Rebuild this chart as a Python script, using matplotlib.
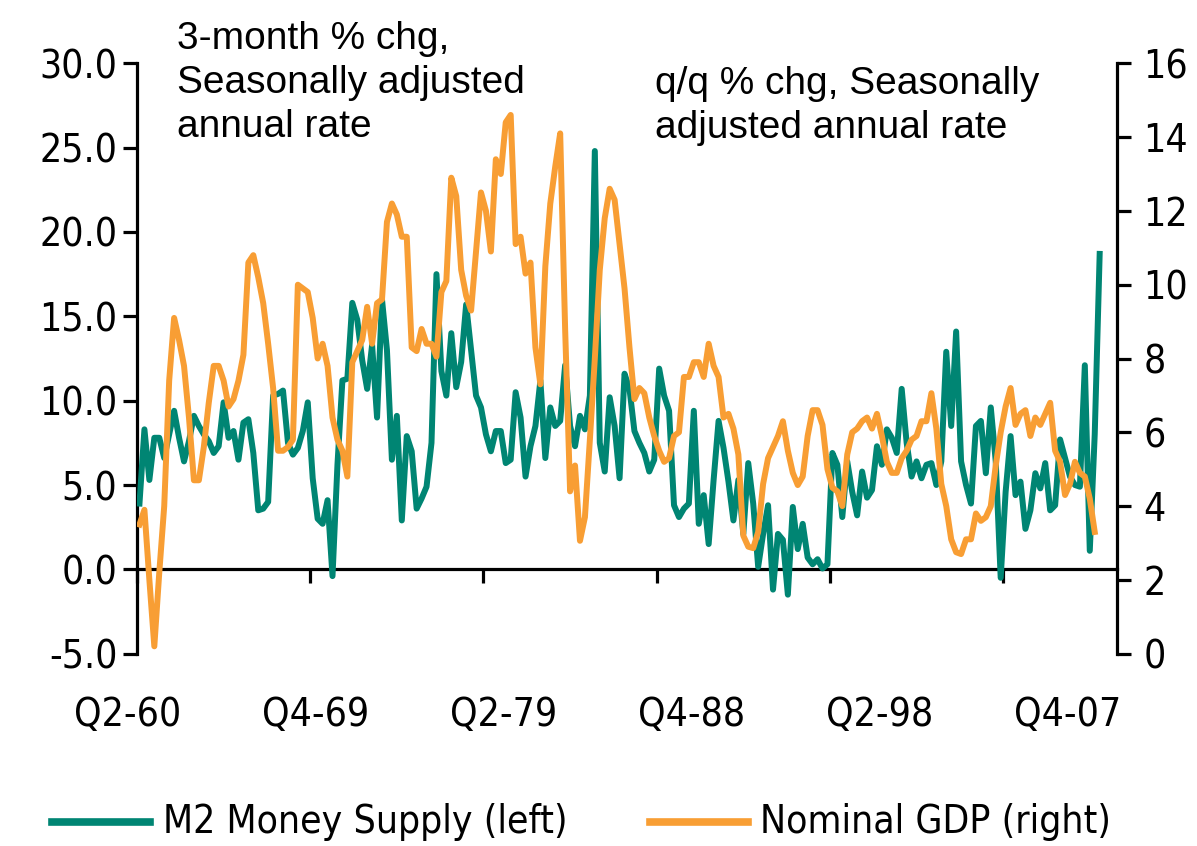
import matplotlib
matplotlib.use("Agg")
import matplotlib.pyplot as plt
from matplotlib.lines import Line2D
import matplotlib.transforms as mtransforms
import matplotlib.font_manager as fm

# ---------------- data ----------------
m2_growth = [
    3.9, 8.3, 5.3, 7.8, 7.8, 6.6, 8.0, 9.4, 7.8, 6.4,
    7.6, 9.1, 8.5, 8.0, 7.6, 6.9, 7.3, 9.9, 7.8, 8.2,
    6.5, 8.7, 8.9, 6.9, 3.5, 3.6, 4.0, 10.3, 10.4, 10.6,
    7.5, 6.8, 7.2, 8.2, 9.9, 5.4, 3.0, 2.7, 4.1, -0.4,
    6.2, 11.2, 11.3, 15.8, 14.8, 12.4, 10.7, 13.3, 9.0, 16.0,
    13.0, 6.5, 9.1, 2.9, 7.9, 7.0, 3.6, 4.2, 4.9, 7.5,
    17.5, 11.75, 10.3, 14.0, 10.8, 12.3, 15.7, 13.0, 10.3, 9.6,
    8.0, 7.0, 8.2, 8.2, 6.3, 6.5, 10.5, 9.0, 5.5, 7.3,
    8.5, 11.2, 6.6, 9.6, 8.5, 8.8, 12.1, 8.5, 7.3, 9.1,
    8.3, 10.3, 24.8, 7.5, 5.8, 10.2, 8.5, 5.4, 11.6, 10.7,
    8.2, 7.5, 6.9, 5.8, 6.5, 11.9, 10.3, 9.4, 3.8, 3.1,
    3.6, 3.9, 9.4, 2.7, 4.4, 1.5, 5.3, 8.8, 7.2, 5.2,
    2.9, 5.3, 2.1, 6.3, 3.9, 0.15, 2.1, 3.8, -1.2, 2.1,
    1.75, -1.5, 3.7, 1.2, 2.7, 0.7, 0.3, 0.6, 0.05, 0.3,
    6.9, 6.2, 3.1, 6.4, 4.6, 3.2, 5.8, 4.25, 4.7, 7.3,
    6.2, 8.3, 7.8, 6.9, 10.7, 7.5, 5.5, 6.4, 5.4, 6.2,
    6.3, 5.0, 6.4, 12.9, 8.5, 14.1, 6.4, 5.0, 3.9, 8.5,
    8.8, 5.7, 9.6, 6.4, -0.5, 4.6, 7.9, 4.4, 5.2, 2.4,
    3.5, 5.7, 4.8, 6.3, 3.5, 3.8, 7.7, 6.6, 5.5, 5.0,
    4.9, 12.1, 1.1, 8.0, 18.7,
]

gdp_growth = [
    3.5, 3.9, 2.0, 0.2, 2.2, 4.0, 7.4, 9.1, 8.5, 7.8,
    6.4, 4.7, 4.7, 5.6, 6.8, 7.8, 7.8, 7.4, 6.7, 6.9,
    7.4, 8.1, 10.6, 10.8, 10.2, 9.5, 8.4, 7.2, 5.5, 5.5,
    5.6, 5.8, 10.0, 9.9, 9.8, 9.1, 8.0, 8.4, 7.8, 6.4,
    5.8, 5.5, 4.8, 7.9, 8.2, 8.5, 9.4, 8.4, 9.5, 9.6,
    11.7, 12.2, 11.9, 11.3, 11.3, 8.3, 8.2, 8.8, 8.4, 8.4,
    8.05, 9.8, 10.1, 12.9, 12.4, 10.4, 9.7, 9.3, 10.9, 12.5,
    12.0, 10.9, 13.4, 13.0, 14.4, 14.6, 11.1, 11.3, 10.3, 10.6,
    8.3, 7.3, 10.5, 12.2, 13.2, 14.1, 8.8, 4.4, 5.1, 3.06,
    3.7, 5.8, 8.0, 10.4, 11.8, 12.6, 12.3, 11.1, 9.9, 8.3,
    6.9, 7.2, 7.06, 6.4, 5.9, 5.5, 5.2, 5.3, 5.9, 6.0,
    7.5, 7.5, 7.9, 7.9, 7.5, 8.4, 7.8, 7.5, 6.4, 6.5,
    6.1, 5.4, 3.2, 2.9, 2.86, 3.3, 4.6, 5.3, 5.6, 5.9,
    6.3, 5.5, 4.9, 4.57, 4.8, 5.9, 6.6, 6.6, 6.2, 5.0,
    4.5, 4.4, 4.0, 5.4, 6.0, 6.1, 6.3, 6.4, 6.1, 6.5,
    5.9, 5.2, 4.9, 4.9, 5.3, 5.5, 5.8, 5.9, 6.3, 6.3,
    7.06, 6.1, 4.6, 4.0, 3.1, 2.75, 2.7, 3.1, 3.1, 3.8,
    3.6, 3.7, 4.0, 5.1, 6.0, 6.7, 7.2, 6.2, 6.5, 6.6,
    5.9, 6.4, 6.2, 6.5, 6.8, 5.5, 5.2, 4.3, 4.6, 5.2,
    4.9, 4.8, 4.2, 3.3,
]

n_categories = 198                     # category slots on the x axis
x_labels = ["Q2-60", "Q4-69", "Q2-79", "Q4-88", "Q2-98", "Q4-07"]
x_label_pos = [0, 38, 76, 114, 152, 190]
x_tick_step = 35

left_ticks = [-5, 0, 5, 10, 15, 20, 25, 30]
right_ticks = [0, 2, 4, 6, 8, 10, 12, 14, 16]

series_names = ["M2 Money Supply (left)", "Nominal GDP (right)"]
left_note = "3-month % chg,\nSeasonally adjusted\nannual rate"
right_note = "q/q % chg, Seasonally\nadjusted annual rate"

# ---------------- fonts ----------------
def find_condensed():
    cond_names = ("condensed", "semi-condensed", "extra-condensed", "ultra-condensed")
    pref = ["Liberation Sans Narrow", "Noto Sans", "Open Sans", "Roboto", "DejaVu Sans", "Lato", "Inter"]
    best = None
    for f in fm.fontManager.ttflist:
        st = f.stretch
        is_cond = (st in cond_names) if isinstance(st, str) else (st < 500)
        if f.name == "Liberation Sans Narrow" or "Narrow" in f.name or "Condensed" in f.name:
            is_cond = True
        if not is_cond or f.style != "normal":
            continue
        w = f.weight
        if isinstance(w, str):
            if w not in ("normal", "regular", "book"):
                continue
        elif w != 400:
            continue
        if "Semi" in f.fname or "SemiCondensed" in f.fname:
            continue
        rank = pref.index(f.name) if f.name in pref else len(pref)
        if best is None or rank < best[0]:
            best = (rank, f.fname)
    return best[1] if best else None

cond_path = find_condensed()
if cond_path:
    def NFP(size):
        return fm.FontProperties(fname=cond_path, size=size)
    TICK_SIZE = 28
else:
    def NFP(size):
        return fm.FontProperties(family=["Liberation Sans", "DejaVu Sans"], size=size)
    TICK_SIZE = 25

REG = ["Liberation Sans", "DejaVu Sans"]

# ---------------- styling ----------------
TEAL = "#008573"
ORANGE = "#F89E34"
W, H = 1197, 846

fig = plt.figure(figsize=(W / 100, H / 100), dpi=100)
left_px, right_px, top_px, bot_px = 137, 1117, 63.3, 653.7
ax = fig.add_axes([left_px / W, 1 - bot_px / H, (right_px - left_px) / W, (bot_px - top_px) / H])
ax2 = ax.twinx()

ax.plot(range(len(m2_growth)), m2_growth, color=TEAL, lw=4.3, solid_joinstyle="round", zorder=3)
ax2.plot(range(len(gdp_growth)), gdp_growth, color=ORANGE, lw=4.3, solid_joinstyle="round", zorder=3)

ax.set_xlim(-0.5, n_categories - 0.5)
ax.set_ylim(-5, 30)
ax2.set_ylim(0, 16)

spine_w = 2.3
for a in (ax, ax2):
    a.spines["top"].set_visible(False)
ax.spines["right"].set_visible(False)
ax2.spines["left"].set_visible(False)
ax2.spines["bottom"].set_visible(False)
ax.spines["left"].set_linewidth(spine_w)
ax2.spines["right"].set_linewidth(spine_w)
ax.spines["bottom"].set_linewidth(spine_w)
ax.spines["bottom"].set_position(("data", 0))

ax.set_xticks([-0.5 + x_tick_step * k for k in range(6)])
ax.set_xticklabels([])
ax.tick_params(axis="x", direction="out", length=10, width=spine_w)

ax.set_yticks(left_ticks)
ax.set_yticklabels([f"{v:.1f}" for v in left_ticks], fontproperties=NFP(TICK_SIZE))
ax.tick_params(axis="y", direction="out", length=10, width=spine_w, pad=4)

ax2.set_yticks(right_ticks)
ax2.set_yticklabels([str(v) for v in right_ticks], fontproperties=NFP(TICK_SIZE))
ax2.tick_params(axis="y", direction="out", length=10, width=spine_w, pad=9)

trans = mtransforms.blended_transform_factory(ax.transData, ax.transAxes)
for lab, pos in zip(x_labels, x_label_pos):
    ax.text(pos - 2.4, -0.104, lab, transform=trans, ha="center", va="center",
            fontproperties=NFP(TICK_SIZE))

# notes
fig.text(177 / W, 1 - 21 / H, left_note, ha="left", va="top", fontfamily=REG,
         fontsize=28, linespacing=1.28)
fig.text(655 / W, 1 - 66 / H, right_note, ha="left", va="top", fontfamily=REG,
         fontsize=28, linespacing=1.28)

# legend
ly = 1 - 822 / H
for (x0, x1, col, name, tx) in [(52, 150, TEAL, series_names[0], 163),
                                 (650, 748, ORANGE, series_names[1], 760)]:
    fig.add_artist(Line2D([x0 / W, x1 / W], [ly, ly], color=col, lw=5.5,
                          transform=fig.transFigure))
    fig.text(tx / W, ly, name, ha="left", va="center", fontproperties=NFP(TICK_SIZE))

fig.savefig("out.png", dpi=100)
